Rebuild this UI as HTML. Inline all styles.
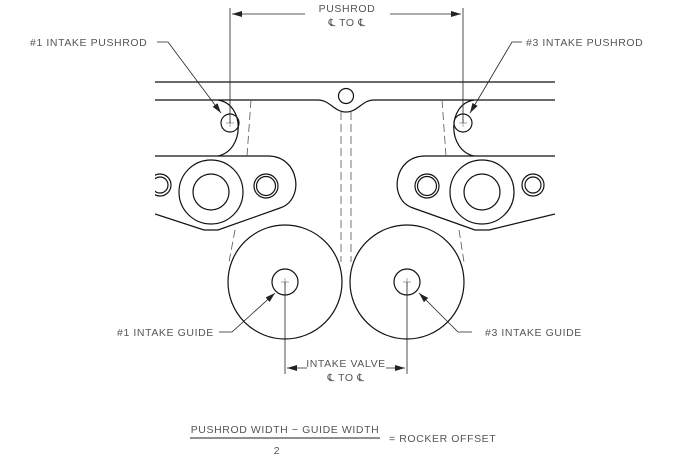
<!DOCTYPE html>
<html><head><meta charset="utf-8"><style>
html,body{margin:0;padding:0;background:#fff;}
svg{display:block;}
text{font-family:"Liberation Sans",sans-serif;font-size:10.5px;fill:#555;letter-spacing:0.6px;}
</style></head><body>
<svg width="688" height="458" viewBox="0 0 688 458" xmlns="http://www.w3.org/2000/svg">
<defs>
<marker id="a" markerWidth="10" markerHeight="6" refX="10" refY="3" orient="auto" markerUnits="userSpaceOnUse">
<path d="M0,0 L10,3 L0,6 z" fill="#222"/></marker>
<clipPath id="c"><rect x="155" y="0" width="400" height="458"/></clipPath>
</defs>
<g fill="none" stroke="#111" stroke-width="1.2">
<line x1="155" y1="82" x2="555" y2="82"/>
<path d="M155,100 H318 C330,100 334,112 346,112 C358,112 362,100 374,100 H555"/>
<circle cx="346" cy="96" r="7.5"/>
<path d="M218,100 C245,104 245,150 218,156"/>
<path d="M474,100 C447,104 447,150 474,156"/>
<circle cx="230" cy="123" r="9"/>
<circle cx="463" cy="123" r="9"/>
<g clip-path="url(#c)">
<path d="M155,156 H268 C300,156 305,200 280,208 L218,230 H204 L155,214"/>
<path d="M555,156 H425 C393,156 388,200 413,208 L475,230 H489 L555,214"/>
<circle cx="160" cy="185" r="11"/><circle cx="160" cy="185" r="8"/>
<circle cx="533" cy="185" r="11"/><circle cx="533" cy="185" r="8"/>
</g>
<circle cx="211" cy="192" r="32"/><circle cx="211" cy="192" r="18"/>
<circle cx="482" cy="192" r="32"/><circle cx="482" cy="192" r="18"/>
<circle cx="266" cy="186" r="12"/><circle cx="266" cy="186" r="9.5"/>
<circle cx="427" cy="186" r="12"/><circle cx="427" cy="186" r="9.5"/>
<circle cx="285" cy="282" r="57"/><circle cx="285" cy="282" r="13"/>
<circle cx="407" cy="282" r="57"/><circle cx="407" cy="282" r="13"/>
</g>
<g fill="none" stroke="#555" stroke-width="0.8" stroke-dasharray="8,4">
<path d="M251,100 L247,156"/><path d="M235,230 L229,262"/>
<path d="M442,100 L446,156"/><path d="M459,230 L464,262"/>
<line x1="341" y1="112" x2="341" y2="262"/><line x1="351" y1="112" x2="351" y2="262"/>
</g>
<g stroke="#888" stroke-width="0.7">
<path d="M226,123h8M230,119v8M459,123h8M463,119v8M281,282h8M285,278v8M403,282h8M407,278v8"/>
</g>
<g stroke="#222" stroke-width="0.8" fill="none">
<line x1="230" y1="8" x2="230" y2="123"/>
<line x1="463" y1="8" x2="463" y2="123"/>
<line x1="305" y1="14" x2="232" y2="14" marker-end="url(#a)"/>
<line x1="390" y1="14" x2="461" y2="14" marker-end="url(#a)"/>
<line x1="285" y1="282" x2="285" y2="374"/>
<line x1="407" y1="282" x2="407" y2="374"/>
<line x1="307" y1="368" x2="287" y2="368" marker-end="url(#a)"/>
<line x1="386" y1="368" x2="405" y2="368" marker-end="url(#a)"/>
<polyline points="157,42 168,42 221,113" marker-end="url(#a)"/>
<polyline points="522,42 512,42 470,113" marker-end="url(#a)"/>
<polyline points="219,332 232,332 275,293" marker-end="url(#a)"/>
<polyline points="472,332 458,332 419,293" marker-end="url(#a)"/>
<line x1="190" y1="438" x2="380" y2="438" stroke-width="1"/>
</g>
<text x="347" y="12" text-anchor="middle">PUSHROD</text>
<text x="347" y="26" text-anchor="middle">℄ TO ℄</text>
<text x="30" y="46">#1 INTAKE PUSHROD</text>
<text x="526" y="46">#3 INTAKE PUSHROD</text>
<text x="117" y="336">#1 INTAKE GUIDE</text>
<text x="485" y="336">#3 INTAKE GUIDE</text>
<text x="346" y="367" text-anchor="middle">INTAKE VALVE</text>
<text x="346" y="381" text-anchor="middle">℄ TO ℄</text>
<text x="285" y="433" text-anchor="middle">PUSHROD WIDTH − GUIDE WIDTH</text>
<text x="277" y="454" text-anchor="middle">2</text>
<text x="389" y="442">= ROCKER OFFSET</text>
</svg>
</body></html>
